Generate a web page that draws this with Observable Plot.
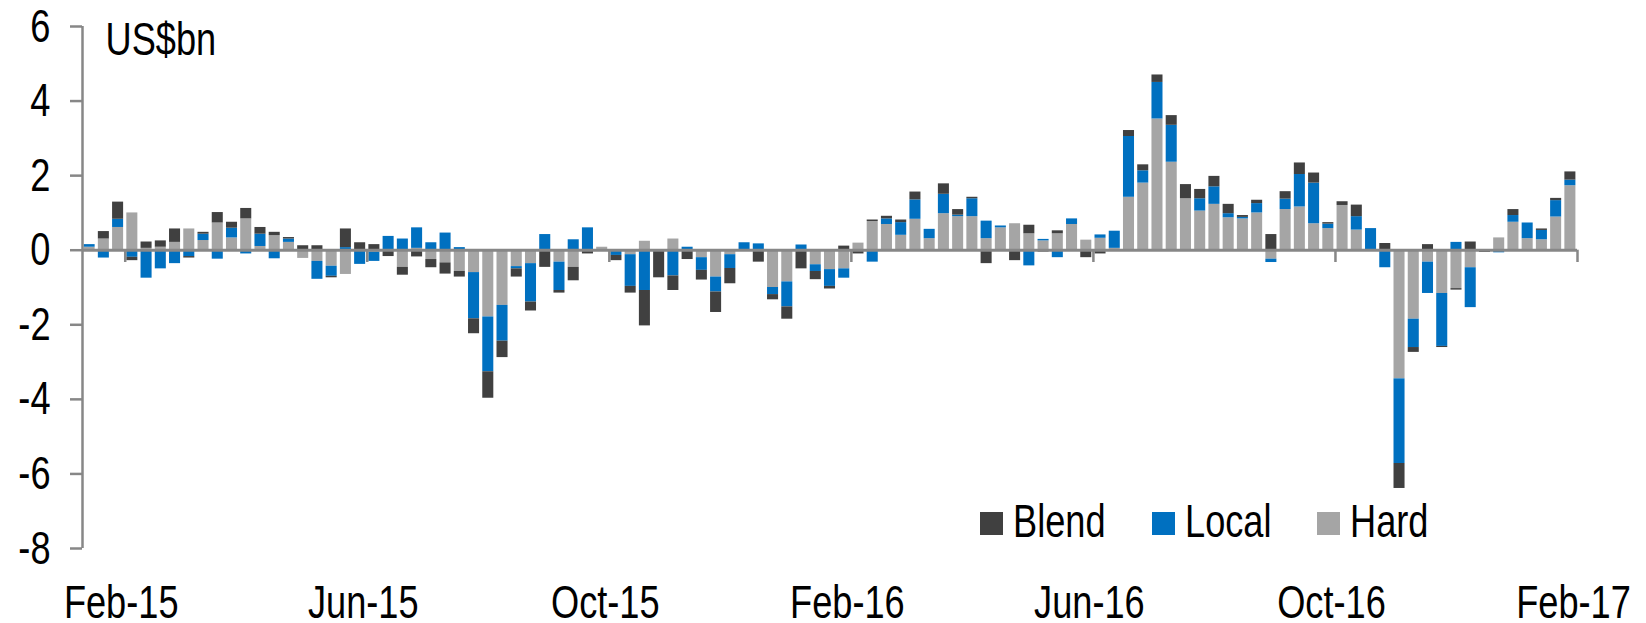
<!DOCTYPE html>
<html><head><meta charset="utf-8">
<script src="https://cdn.jsdelivr.net/npm/d3@7"></script>
<script src="https://cdn.jsdelivr.net/npm/@observablehq/plot@0.6"></script>
<style>
html, body {margin:0; padding:0; background:#fff;}
#wrap {position:relative; width:1646px; height:623px; font-family:"Liberation Sans Narrow","Arial Narrow","Liberation Sans",Arial,sans-serif;}
#legend {position:absolute; left:980px; top:494px; display:flex; align-items:center; font-size:47px; color:#000; line-height:54px;}
#legend .item {display:flex; align-items:center; margin-right:46px;}
#legend .sw {width:23px; height:23px; margin-right:10px; margin-top:4px;}
#legend .lab {display:inline-block; transform-origin:left center; white-space:nowrap;}
</style></head>
<body><div id="wrap"></div>
<script>
// stacking order (first = nearest zero)
const series = ["Hard", "Local", "Blend"];
const colors = ["#A5A5A5", "#0070C0", "#404040"];
const legendOrder = ["Blend", "Local", "Hard"];

const hard = [0.08,0.30,0.61,1.00,0.05,0.08,0.21,0.57,0.26,0.73,0.33,0.84,0.10,0.39,0.21,-0.22,-0.30,-0.43,-0.65,0,
  -0.05,0,-0.46,0.05,-0.25,-0.34,-0.57,-0.60,-1.79,-1.48,-0.44,-0.36,0,-0.32,-0.46,0,0.08,0,-0.12,0.24,
  0,0.30,0,-0.20,-0.72,-0.12,0,0,-1.00,-0.85,0,-0.39,-0.52,-0.50,0.19,0.77,0.69,0.40,0.83,0.31,
  0.98,0.90,0.90,0.31,0.60,0.71,0.44,0.25,0.44,0.69,0.27,0.32,0.05,1.42,1.80,3.52,2.36,1.38,1.05,1.23,
  0.87,0.84,1.00,-0.24,1.09,1.16,0.71,0.58,1.20,0.54,0,0,-3.45,-1.85,-0.32,-1.16,-1.03,-0.47,0,0.33,
  0.75,0.31,0.28,0.89,1.73];
const local = [0.07,-0.21,0.22,-0.19,-0.75,-0.50,-0.36,-0.17,0.17,-0.24,0.26,-0.10,0.33,-0.23,0.09,0,-0.48,-0.27,0.07,-0.38,
  -0.25,0.37,0.30,0.55,0.20,0.46,0.07,-1.24,-1.47,-0.96,-0.06,-1.03,0.42,-0.76,0.28,0.60,0,-0.14,-0.85,-1.08,
  0,-0.69,0.08,-0.34,-0.40,-0.37,0.20,0.17,-0.19,-0.67,0.14,-0.18,-0.45,-0.25,0,-0.32,0.15,0.34,0.52,0.25,
  0.52,0.04,0.48,0.47,0.05,0,-0.42,0.04,-0.20,0.15,0,0.09,0.46,1.63,0.33,0.98,0.99,0,0.33,0.47,
  0.11,0.04,0.25,-0.09,0.28,0.87,1.09,0.12,0,0.36,0.58,-0.47,-2.27,-0.76,-0.84,-1.42,0.21,-1.07,0,-0.07,
  0.18,0.42,0.25,0.44,0.15];
const blend = [0,0.20,0.46,-0.09,0.17,0.17,0.36,-0.04,0.05,0.28,0.16,0.28,0.18,0.09,0.04,0.12,0.12,-0.04,0.50,0.20,
  0.15,-0.17,-0.21,-0.18,-0.22,-0.30,-0.15,-0.40,-0.71,-0.44,-0.22,-0.24,-0.46,-0.07,-0.36,-0.10,0,-0.14,-0.18,-0.95,
  -0.74,-0.39,-0.25,-0.26,-0.55,-0.41,0,-0.32,-0.14,-0.33,-0.50,-0.22,-0.07,0.11,-0.10,0.04,0.07,0.07,0.21,0,
  0.28,0.15,0.04,-0.36,0,-0.28,0.23,-0.05,0.08,0,-0.20,-0.10,0,0.16,0.16,0.20,0.26,0.38,0.25,0.28,
  0.25,0.05,0.09,0.42,0.20,0.31,0.27,0.04,0.10,0.31,0,0.18,-0.67,-0.13,0.15,-0.03,-0.04,0.22,-0.06,0,
  0.16,0,0.04,0.06,0.22];

const xTickPositions = [3, 20, 37, 54, 71, 88, 105];
const xTickLabels = ["Feb-15", "Jun-15", "Oct-15", "Feb-16", "Jun-16", "Oct-16", "Feb-17"];
const yTicks = [-8, -6, -4, -2, 0, 2, 4, 6];
const yTickLabels = ["-8", "-6", "-4", "-2", "0", "2", "4", "6"];
const unitLabel = "US$bn";

const values = {Hard: hard, Local: local, Blend: blend};
const table = [];
for (let i = 0; i < hard.length; i++) {
  for (const s of series) table.push({i, series: s, value: values[s][i]});
}

const axisGray = "#878787";
const font = "'Liberation Sans Narrow','Arial Narrow','Liberation Sans',Arial,sans-serif";
const fs = 47;
const narrow = 0.77; // condense regular sans to narrow proportions

const chart = Plot.plot({
  width: 1646, height: 623,
  marginLeft: 82, marginRight: 69, marginTop: 26, marginBottom: 75,
  style: {fontFamily: font, fontSize: fs + "px", color: "#000", background: "#fff"},
  x: {type: "linear", domain: [0, hard.length], axis: null, label: null},
  y: {domain: [-8, 6], axis: null, label: null},
  color: {domain: series, range: colors},
  marks: [
    Plot.rectY(table, {x: "i", x1: "i", x2: d => d.i + 1, y: "value", fill: "series", insetLeft: 1.6, insetRight: 1.6}),
    Plot.ruleX([0], {stroke: axisGray, strokeWidth: 2.5}),
    Plot.ruleY([0], {stroke: axisGray, strokeWidth: 3}),
    Plot.ruleX(xTickPositions, {x: d => d, y1: 0, y2: -0.33, stroke: axisGray, strokeWidth: 2.5}),
    Plot.axisY({ticks: yTicks, tickFormat: d => yTickLabels[yTicks.indexOf(d)], tickSize: 12, tickPadding: 20,
      stroke: axisGray, strokeWidth: 2.5, fill: "#000", fontSize: fs, label: null}),
    Plot.axisX({ticks: xTickPositions, tickFormat: d => xTickLabels[xTickPositions.indexOf(d)], tickSize: 0,
      tickPadding: 36, anchor: "bottom", fill: "#000", fontSize: fs, dx: -4, label: null}),
    Plot.text([unitLabel], {text: d => d, frameAnchor: "top-left", textAnchor: "start", lineAnchor: "middle",
      dx: 23, dy: 13, fontSize: fs, fill: "#000"})
  ]
});

const wrap = document.getElementById("wrap");
wrap.appendChild(chart);

// condense glyphs horizontally (no narrow font installed)
chart.querySelectorAll("text").forEach(t => {
  const w = t.getComputedTextLength();
  if (w > 0) {
    t.setAttribute("textLength", (w * narrow).toFixed(2));
    t.setAttribute("lengthAdjust", "spacingAndGlyphs");
  }
});

const legend = document.createElement("div");
legend.id = "legend";
wrap.appendChild(legend);
for (const s of legendOrder) {
  const item = document.createElement("div");
  item.className = "item";
  const sw = document.createElement("span");
  sw.className = "sw";
  sw.style.background = colors[series.indexOf(s)];
  const label = document.createElement("span");
  label.className = "lab";
  label.textContent = s;
  item.appendChild(sw); item.appendChild(label);
  legend.appendChild(item);
  const w = label.getBoundingClientRect().width;
  label.style.transform = `scaleX(${narrow})`;
  label.style.marginRight = `${-(1 - narrow) * w}px`;
}
</script>
</body></html>
